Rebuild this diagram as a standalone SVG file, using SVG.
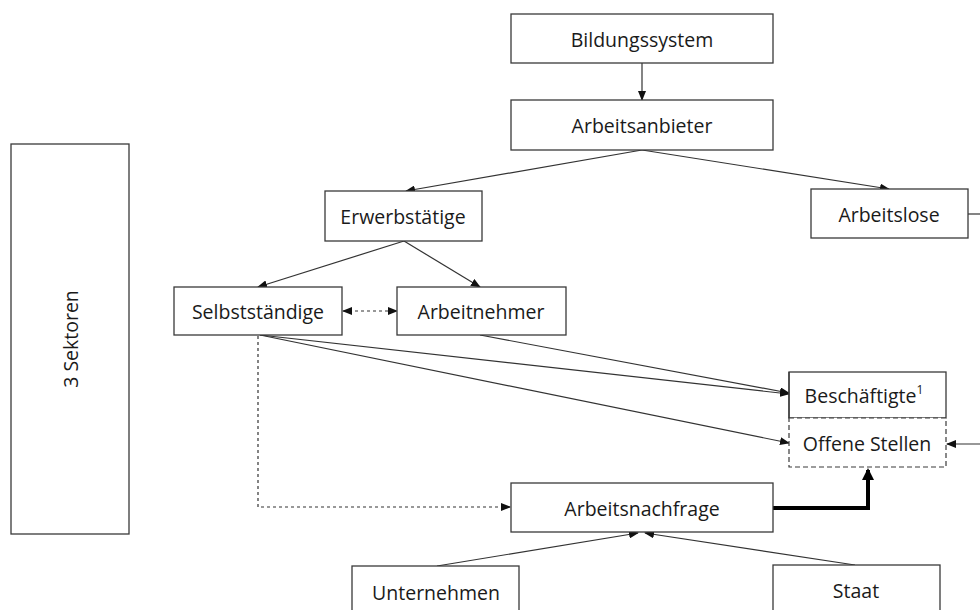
<svg xmlns="http://www.w3.org/2000/svg" width="980" height="610" viewBox="0 0 980 610">
<style>
.box{fill:#fff;stroke:#3a3a3a;stroke-width:1.3}
.dbox{fill:#fff;stroke:#3a3a3a;stroke-width:1.2;stroke-dasharray:5 3}
.t{font-family:"Open Sans","Liberation Sans",sans-serif;font-size:19.5px;fill:#1a1a1a;text-anchor:middle;dominant-baseline:central}
.c{fill:none;stroke:#333;stroke-width:1.2}
.d{fill:none;stroke:#333;stroke-width:1.2;stroke-dasharray:3 3}
.k{fill:none;stroke:#000;stroke-width:4}
</style>
<defs>
<marker id="a" markerWidth="10" markerHeight="8" refX="9" refY="4" orient="auto" markerUnits="userSpaceOnUse"><path d="M0,0 L10,4 L0,8 z" fill="#111"/></marker>
<marker id="as" markerWidth="10" markerHeight="8" refX="1" refY="4" orient="auto" markerUnits="userSpaceOnUse"><path d="M10,0 L0,4 L10,8 z" fill="#111"/></marker>
<marker id="ak" markerWidth="12" markerHeight="12" refX="10" refY="6" orient="auto" markerUnits="userSpaceOnUse"><path d="M0,0 L12,6 L0,12 z" fill="#000"/></marker>
</defs>
<g id="connectors">
<line class="c" x1="642" y1="63" x2="642" y2="100" marker-end="url(#a)"/>
<line class="c" x1="642" y1="150" x2="406" y2="191" marker-end="url(#a)"/>
<line class="c" x1="642" y1="150" x2="889" y2="189" marker-end="url(#a)"/>
<line class="c" x1="404" y1="241" x2="258" y2="287" marker-end="url(#a)"/>
<line class="c" x1="404" y1="241" x2="480" y2="287" marker-end="url(#a)"/>
<line class="d" x1="343" y1="311" x2="397" y2="311" marker-start="url(#as)" marker-end="url(#a)"/>
<line class="c" x1="260" y1="335" x2="789" y2="394" marker-end="url(#a)"/>
<line class="c" x1="480" y1="335" x2="789" y2="393" marker-end="url(#a)"/>
<line class="c" x1="260" y1="335" x2="789" y2="443" marker-end="url(#a)"/>
<polyline class="d" points="258,336 258,507 510,507" marker-end="url(#a)"/>
<line class="c" x1="968" y1="214" x2="980" y2="214"/>
<line class="c" x1="980" y1="444" x2="947" y2="444" marker-end="url(#a)"/>
<polyline class="k" points="773,508 868,508 868,470" marker-end="url(#ak)"/>
<line class="c" x1="437" y1="566" x2="638" y2="533" marker-end="url(#a)"/>
<line class="c" x1="855" y1="565" x2="645" y2="533" marker-end="url(#a)"/>
</g>
<g id="sektoren"><rect class="box" x="11" y="144" width="118" height="390"/><text class="t" transform="translate(70,339) rotate(-90)">3 Sektoren</text></g>
<g id="bildungssystem"><rect class="box" x="511" y="14" width="262" height="49"/><text class="t" x="642" y="39">Bildungssystem</text></g>
<g id="arbeitsanbieter"><rect class="box" x="511" y="100" width="262" height="50"/><text class="t" x="642" y="125">Arbeitsanbieter</text></g>
<g id="erwerbstaetige"><rect class="box" x="325" y="191" width="157" height="50"/><text class="t" x="403" y="216">Erwerbstätige</text></g>
<g id="arbeitslose"><rect class="box" x="811" y="189" width="157" height="49"/><text class="t" x="889" y="214">Arbeitslose</text></g>
<g id="selbststaendige"><rect class="box" x="174" y="287" width="168" height="48"/><text class="t" x="258" y="311">Selbstständige</text></g>
<g id="arbeitnehmer"><rect class="box" x="397" y="287" width="169" height="48"/><text class="t" x="481" y="311">Arbeitnehmer</text></g>
<g id="beschaeftigte"><rect class="box" x="789" y="372" width="157" height="46"/><text class="t" x="864" y="395">Beschäftigte<tspan font-size="12" dy="-6">1</tspan></text></g>
<g id="offene-stellen"><rect class="dbox" x="789" y="418" width="157" height="49"/><line class="box" x1="789" y1="372" x2="789" y2="418"/><text class="t" x="867" y="443">Offene Stellen</text></g>
<g id="arbeitsnachfrage"><rect class="box" x="511" y="483" width="262" height="49"/><text class="t" x="642" y="508">Arbeitsnachfrage</text></g>
<g id="unternehmen"><rect class="box" x="352" y="566" width="167" height="50"/><text class="t" x="436" y="592">Unternehmen</text></g>
<g id="staat"><rect class="box" x="773" y="565" width="167" height="50"/><text class="t" x="856" y="590">Staat</text></g>
</svg>
